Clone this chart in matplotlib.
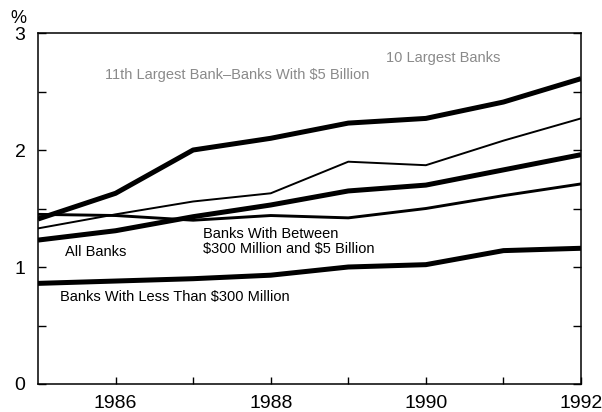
import numpy as np
import matplotlib.pyplot as plt

plt.rcParams['font.family'] = ['Liberation Sans', 'DejaVu Sans']
plt.rcParams['text.parse_math'] = False

years = [1985, 1986, 1987, 1988, 1989, 1990, 1991, 1992]
largest_10 = [1.41, 1.63, 2.00, 2.10, 2.23, 2.27, 2.41, 2.61]
largest_11_to_5b = [1.33, 1.45, 1.56, 1.63, 1.90, 1.87, 2.08, 2.27]
between_300m_5b = [1.45, 1.44, 1.40, 1.44, 1.42, 1.50, 1.61, 1.71]
all_banks = [1.23, 1.31, 1.43, 1.53, 1.65, 1.70, 1.83, 1.96]
less_300m = [0.86, 0.88, 0.90, 0.93, 1.00, 1.02, 1.14, 1.16]

y_ticks = [0, 1, 2, 3]
x_ticks = [1986, 1988, 1990, 1992]

fig = plt.figure(figsize=(6.02, 4.12), dpi=100, facecolor='w')
ax = fig.add_axes([38 / 602, 28 / 412, 543 / 602, 351 / 412])

ax.plot(years, largest_10, color='black', lw=3.6, solid_capstyle='butt')
ax.plot(years, largest_11_to_5b, color='black', lw=1.4)
ax.plot(years, between_300m_5b, color='black', lw=2.1)
ax.plot(years, all_banks, color='black', lw=3.6, solid_capstyle='butt')
ax.plot(years, less_300m, color='black', lw=3.6, solid_capstyle='butt')

ax.set_xlim(1985, 1992)
ax.set_ylim(0, 3)
ax.set_yticks(np.arange(0, 3.01, 0.5))
ax.set_yticklabels([str(int(v)) if v in y_ticks else '' for v in np.arange(0, 3.01, 0.5)])
ax.set_xticks(range(1986, 1993))
ax.set_xticklabels([str(y) if y in x_ticks else '' for y in range(1986, 1993)])
ax.tick_params(axis='y', direction='in', length=6, width=1, left=True, right=True,
               labelsize=14, pad=9)
ax.tick_params(axis='x', direction='in', length=5, width=1, labelsize=14, pad=8)
for s in ax.spines.values():
    s.set_linewidth(1.1)

ax.text(-0.037, 1.04, '%', transform=ax.transAxes, fontsize=13, ha='center', va='center')

grey = '#8a8a8a'
ax.text(1989.48, 2.79, '10 Largest Banks', fontsize=10.5, color=grey, ha='left', va='center')
ax.text(1985.87, 2.64, '11th Largest Bank\u2013Banks With $5 Billion', fontsize=10.5,
        color=grey, ha='left', va='center')
ax.text(1985.35, 1.13, 'All Banks', fontsize=10.5, ha='left', va='center')
ax.text(1987.13, 1.22, 'Banks With Between\n$300 Million and $5 Billion', fontsize=10.5,
        ha='left', va='center', linespacing=1.05)
ax.text(1985.28, 0.74, 'Banks With Less Than $300 Million', fontsize=10.5,
        ha='left', va='center')

fig.savefig('out.png', dpi=100)
